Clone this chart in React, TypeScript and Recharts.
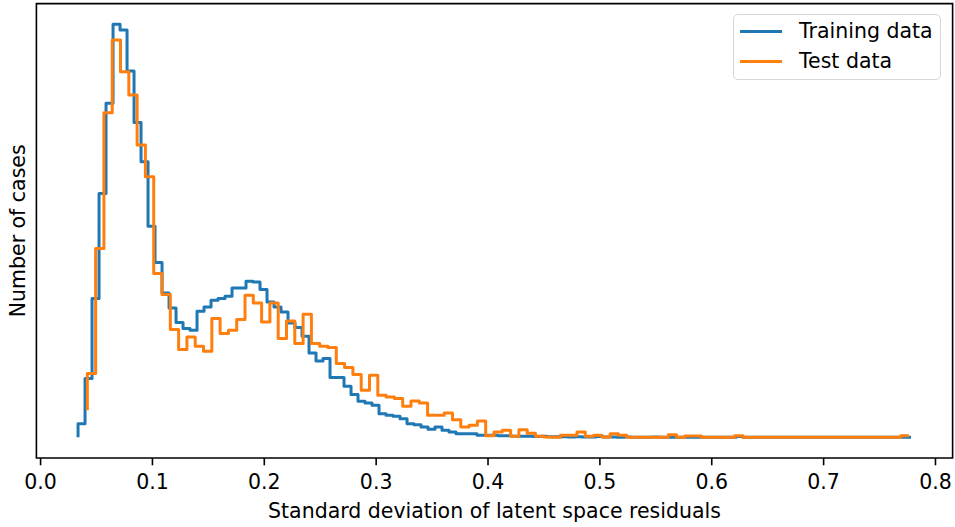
import React from 'react';
import { LineChart, Line, XAxis, YAxis, ReferenceArea, Label } from 'recharts';

// step histograms: x = bin edge, value drawn over the interval that ends at that edge
const trainStart = 0.0335;
const trainBinWidth = 0.006257;
const trainCounts = [
  0,
  13.7, 58.7, 138.7, 243.7, 333.7, 412.7, 407, 366, 314.7, 275.3,
  211, 174.7, 144.3, 129.3, 114.7, 108.7, 107, 126, 130.3, 137,
  138.7, 141, 149.3, 149.3, 156, 155.3, 147.7, 135.3, 130.3, 125.3,
  114.3, 109.7, 101, 84.3, 76.3, 78.7, 59.7, 59.7, 51, 42.7,
  36, 34.3, 32, 23.7, 22, 21, 18.7, 13.7, 12.7, 10.3,
  8, 10.3, 7, 5.3, 3.7, 3.7, 3.7, 2, 2, 2,
  1.5, 1.5, 1.2, 1, 1, 0.8, 1, 0.6, 0.5, 0.6,
  0.4, 0.5, 0.3, 0.4, 0.8, 0.3, 0.3, 0.2, 0.4, 0.2,
  0.2, 0.1, 0.3, 0.1, 0.1, 0.2, 0, 0.1, 0.1, 0,
  0.1, 0, 0, 0.1, 0.8, 0, 0, 0.1, 0, 0,
  0, 0, 0.1, 0, 0, 0, 0, 0, 0, 0,
  0, 0, 0, 0, 0, 0, 0, 0, 0,
];

const testStart = 0.0418;
const testBinWidth = 0.007419;
const testCounts = [
  27,
  63.7, 188.7, 324.3, 397, 365.3, 342, 292, 260.3, 163.7, 142.7,
  107.7, 87.7, 100.3, 91, 86, 118.7, 103.7, 107, 117.7, 142,
  134.3, 115.3, 134.3, 98.7, 116.3, 93.7, 123, 93.7, 91, 89.7,
  73.7, 69.7, 62.7, 47, 62, 42, 40.3, 38.7, 31, 36.3,
  34.3, 22, 22, 24.3, 17.7, 10.3, 12, 16.3, 1.5, 5.3,
  7, 1.2, 7.7, 4, 1.2, 0.3, 0, 2, 2, 5.3,
  1, 2, 0.3, 3.7, 2, 0, 0, 0, 0, 0,
  2.7, 0, 1.3, 1.3, 0, 0, 0, 0, 1.6, 0,
  0, 0, 0, 0, 0, 0, 0, 0, 0, 0,
  0, 0, 0, 0, 0, 0, 0, 0, 1.6,
];

const xTicks = [0, 0.1, 0.2, 0.3, 0.4, 0.5, 0.6, 0.7, 0.8];
const seriesNames = ['Training data', 'Test data'];
const seriesColors = ['#1f77b4', '#ff7f0e'];

const toSteps = (start: number, width: number, counts: number[]) =>
  counts.map((c, i) => ({ x: start + i * width, cases: c }));

const trainData = toSteps(trainStart, trainBinWidth, trainCounts);
const testData = toSteps(testStart, testBinWidth, testCounts);

// matplotlib-style 5% margins
const xLo = Math.min(trainStart, testStart);
const xHi = Math.max(
  trainStart + (trainCounts.length - 1) * trainBinWidth,
  testStart + (testCounts.length - 1) * testBinWidth
);
const xDomain = [xLo - 0.05 * (xHi - xLo), xHi + 0.05 * (xHi - xLo)];
const yMax = Math.max(...trainCounts, ...testCounts);
const yDomain = [-0.05 * yMax, 1.05 * yMax];

const font = 'DejaVu Sans';
const fontSize = 20.5;

const XTick = ({ x, y, payload }: any) => (
  <text x={x} y={y} dy={16} textAnchor="middle" fontFamily={font} fontSize={fontSize} fill="#000">
    {payload.value.toFixed(1)}
  </text>
);

const YTitle = ({ viewBox }: any) => {
  const cx = 25;
  const cy = viewBox.y + viewBox.height / 2;
  return (
    <text x={cx} y={cy} transform={`rotate(-90, ${cx}, ${cy})`} textAnchor="middle" fontFamily={font} fontSize={fontSize} fill="#000">
      Number of cases
    </text>
  );
};

const LegendBox = () => (
  <div
    style={{
      position: 'absolute', left: 733, top: 14, width: 208, height: 66, boxSizing: 'border-box',
      border: '1.6px solid #d6d6d6', borderRadius: 5, background: 'rgba(255,255,255,0.8)',
      fontFamily: font, fontSize, color: '#000',
    }}
  >
    {seriesNames.map((name, i) => (
      <div key={name} style={{ position: 'absolute', left: 0, top: 1 + i * 30, height: 30, display: 'flex', alignItems: 'center' }}>
        <div style={{ marginLeft: 6, width: 42, height: 3, background: seriesColors[i] }} />
        <span style={{ marginLeft: 17, whiteSpace: 'nowrap', lineHeight: 'normal' }}>{name}</span>
      </div>
    ))}
  </div>
);

export default function App() {
  return (
    <div style={{ position: 'absolute', left: 0, top: 0, width: 955, height: 527, background: '#fff' }}>
      <LineChart width={955} height={527} margin={{ top: 3.65, right: 2.4, bottom: 0, left: 0 }}>
        <XAxis
          dataKey="x"
          type="number"
          domain={xDomain}
          ticks={xTicks}
          interval={0}
          allowDataOverflow
          height={69}
          axisLine={false}
          tickSize={7.3}
          tickMargin={7.3}
          tickLine={{ stroke: '#000', strokeWidth: 1.6 }}
          tick={<XTick />}
        >
          <Label value="Standard deviation of latent space residuals" position="insideBottom" offset={9} fontFamily={font} fontSize={fontSize} fill="#000" />
        </XAxis>
        <YAxis type="number" domain={yDomain} allowDataOverflow width={36.4} tick={false} axisLine={false} tickLine={false}>
          <Label content={<YTitle />} />
        </YAxis>
        <ReferenceArea x1={xDomain[0]} x2={xDomain[1]} y1={yDomain[0]} y2={yDomain[1]} fill="none" fillOpacity={0} stroke="#000" strokeWidth={1.6} ifOverflow="visible" />
        <Line data={trainData} dataKey="cases" name={seriesNames[0]} type="stepBefore" stroke={seriesColors[0]} strokeWidth={3} strokeLinejoin="round" dot={false} activeDot={false} isAnimationActive={false} />
        <Line data={testData} dataKey="cases" name={seriesNames[1]} type="stepBefore" stroke={seriesColors[1]} strokeWidth={3} strokeLinejoin="round" dot={false} activeDot={false} isAnimationActive={false} />
      </LineChart>
      <LegendBox />
    </div>
  );
}
